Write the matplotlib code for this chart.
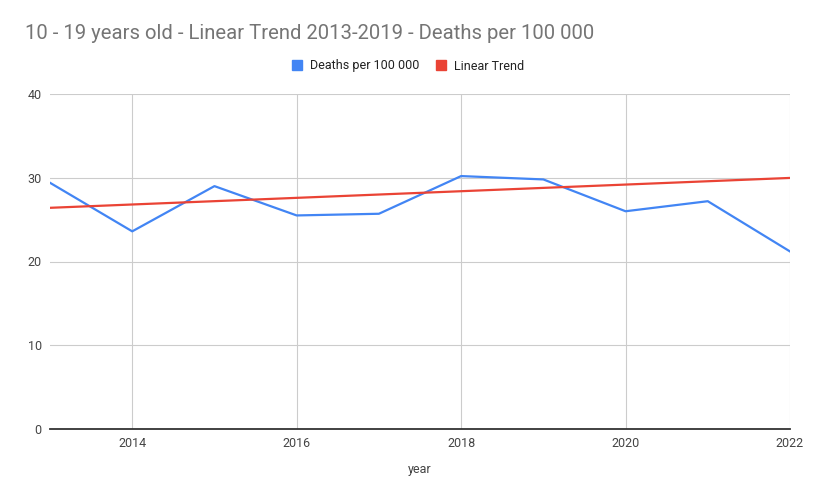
import numpy as np
import matplotlib
matplotlib.use("Agg")
import matplotlib.pyplot as plt
from matplotlib.lines import Line2D

# =========================
# Data
# =========================
years = [2013, 2014, 2015, 2016, 2017, 2018, 2019, 2020, 2021, 2022]
deaths = [29.4, 23.6, 29.0, 25.5, 25.7, 30.2, 29.8, 26.0, 27.2, 21.2]
fit_years = [2013, 2014, 2015, 2016, 2017, 2018, 2019]

# linear trend fitted on 2013-2019, extended to 2022
idx = [years.index(y) for y in fit_years]
coef = np.polyfit(fit_years, [deaths[i] for i in idx], 1)
trend = np.polyval(coef, years)

blue = "#4285F4"
red = "#EA4335"

plt.rcParams['font.family'] = ['Roboto', 'DejaVu Sans']

fig = plt.figure(figsize=(8.13, 5.0), dpi=100)
ax = fig.add_axes([50/813, 1 - 429/500, 740/813, 335/500])

ax.plot(years, deaths, color=blue, lw=1.6, zorder=3)
ax.plot(years, trend, color=red, lw=1.6, zorder=3)

ax.set_xlim(2013, 2022)
ax.set_ylim(0, 40)
ax.set_xticks([2014, 2016, 2018, 2020, 2022])
ax.set_yticks([0, 10, 20, 30, 40])
ax.grid(True, color="#cccccc", lw=0.8)
ax.set_axisbelow(True)
for s in ["top", "right", "left"]:
    ax.spines[s].set_visible(False)
ax.spines["bottom"].set_color("#333333")
ax.spines["bottom"].set_linewidth(1.3)
ax.tick_params(length=0, labelsize=9, colors="#444444")
ax.tick_params(axis="x", pad=6)
ax.tick_params(axis="y", pad=6)

ax.set_xlabel("year", fontsize=9, color="#444444", labelpad=9)

fig.text(25/813, 1 - 33/500, "10 - 19 years old - Linear Trend 2013-2019 - Deaths per 100 000",
         fontsize=14.6, color="#757575", va="center", ha="left")

handles = [Line2D([], [], ls="none", marker="s", markersize=7, color=blue),
           Line2D([], [], ls="none", marker="s", markersize=7, color=red)]
leg = fig.legend(handles, ["Deaths per 100 000", "Linear Trend"],
                 loc="center", bbox_to_anchor=(408/813, 1 - 66/500), ncol=2, frameon=False,
                 fontsize=9, handlelength=0.8, handletextpad=0.6, columnspacing=1.4)
for t in leg.get_texts():
    t.set_color("#222222")

fig.savefig("out.png", dpi=100)
plt.close()
